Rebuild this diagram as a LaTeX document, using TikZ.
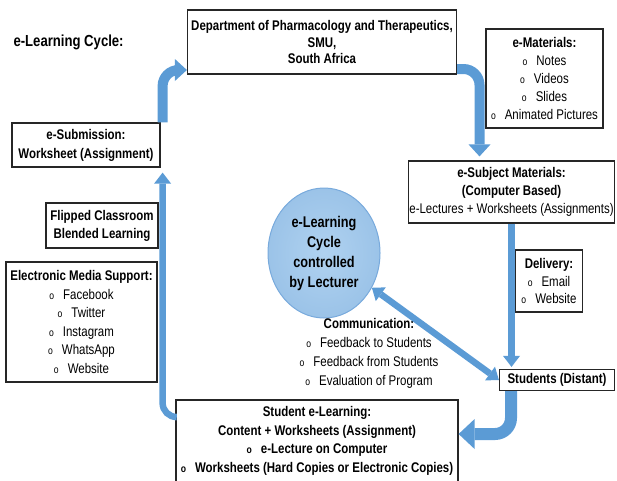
\documentclass[tikz,border=0pt]{standalone}
\usepackage{fontspec}
\setmainfont{Liberation Sans}[FakeStretch=0.82]
\usetikzlibrary{arrows.meta,shapes.geometric,positioning}
\definecolor{flowblue}{RGB}{91,155,213}
\definecolor{cyclein}{RGB}{176,210,240}
\definecolor{cycleout}{RGB}{155,195,232}
\definecolor{cycleline}{RGB}{120,170,220}
% small round bullet in front of list lines
\newcommand{\bl}{{\fontsize{10.5}{10}\selectfont o}\hspace{9pt}}

\tikzset{
  infobox/.style={draw=black!85, line width=1.2pt, fill=white, align=center,
    inner sep=1pt, font=\fontsize{14}{17.8}\selectfont},
  bigflow/.style={draw=flowblue, line width=10pt, rounded corners=16pt,
    -{Triangle[length=12pt,width=22pt,line width=0pt]}},
  thinflow/.style={draw=flowblue, line width=6.5pt,
    -{Triangle[length=11pt,width=17pt,line width=0pt]}},
}

\begin{document}
\begin{tikzpicture}[x=1pt,y=-1pt]
\useasboundingbox (0,0) rectangle (617,480);

% heading
\node[anchor=west, font=\fontsize{16}{18}\selectfont\bfseries] (title) at (10,42) {e-Learning Cycle:};

% boxes round the cycle
\node[infobox, font=\fontsize{14}{16.5}\selectfont\bfseries, minimum width=269pt, minimum height=64pt] (dept) at (322,42)
  {Department of Pharmacology and Therapeutics,\\SMU,\\South Africa};
\node[infobox, minimum width=117pt, minimum height=99pt] (emat) at (544.5,78.5)
  {\textbf{e-Materials:}\\\bl Notes\\\bl Videos\\\bl Slides\\\bl Animated Pictures};
\node[infobox, minimum width=206pt, minimum height=62pt] (esubj) at (511.5,192)
  {\textbf{e-Subject Materials:}\\\textbf{(Computer Based)}\\e-Lectures + Worksheets (Assignments)};
\node[infobox, minimum width=67pt, minimum height=62pt] (delivery) at (549,281)
  {\textbf{Delivery:}\\\bl Email\\\bl Website};
\node[infobox, font=\fontsize{14}{17}\selectfont\bfseries, minimum width=115pt, minimum height=21pt] (students) at (557,380)
  {Students (Distant)};
\node[infobox, font=\fontsize{14}{18.5}\selectfont\bfseries, minimum width=282pt, minimum height=82pt] (selearn) at (317,441)
  {Student e-Learning:\\Content + Worksheets (Assignment)\\\bl e-Lecture on Computer\\\bl Worksheets (Hard Copies or Electronic Copies)};
\node[infobox, font=\fontsize{14}{19}\selectfont\bfseries, minimum width=148pt, minimum height=44pt] (esub) at (86,145)
  {e-Submission:\\Worksheet (Assignment)};
\node[infobox, font=\fontsize{14}{18}\selectfont\bfseries, minimum width=112pt, minimum height=45pt] (flipped) at (102,225.5)
  {Flipped Classroom\\Blended Learning};
\node[infobox, font=\fontsize{14}{18.6}\selectfont, minimum width=151pt, minimum height=120pt] (media) at (81.5,322)
  {\textbf{Electronic Media Support:}\\\bl Facebook\\\bl Twitter\\\bl Instagram\\\bl WhatsApp\\\bl Website};

% centre of the cycle
\node[ellipse, draw=cycleline, line width=1pt, inner color=cyclein, outer color=cycleout,
  minimum width=112pt, minimum height=130pt, align=center,
  font=\fontsize{15.5}{20}\selectfont\bfseries] (cycle) at (324,253)
  {e-Learning\\Cycle\\controlled\\by Lecturer};
\node[align=center, font=\fontsize{14}{18.8}\selectfont] (comm) at (369,353.5)
  {\textbf{Communication:}\\\bl Feedback to Students\\\bl Feedback from Students\\\bl Evaluation of Program};

% flow of the cycle
\draw[bigflow] ([xshift=2pt]esub.north east) |- ([yshift=-28pt]dept.west);
\draw[bigflow] ([yshift=-27pt]dept.east) -| ([xshift=-32pt,yshift=4pt]esubj.north);
\draw[thinflow] (esubj.south) -- ([yshift=2pt]esubj.south |- students.north);
\draw[bigflow, line width=12pt, -{Triangle[length=16pt,width=30pt,line width=0pt]}]
  ([xshift=-46pt]students.south) |- ([yshift=7pt]selearn.east);
\draw[thinflow, rounded corners=14pt] ([yshift=24pt]selearn.west) -| ([xshift=2pt,yshift=-5pt]esub.south east);
\draw[thinflow, {Triangle[length=11pt,width=17pt,line width=0pt]}-{Triangle[length=11pt,width=17pt,line width=0pt]}]
  (cycle) -- (students.west);

\end{tikzpicture}
\end{document}
